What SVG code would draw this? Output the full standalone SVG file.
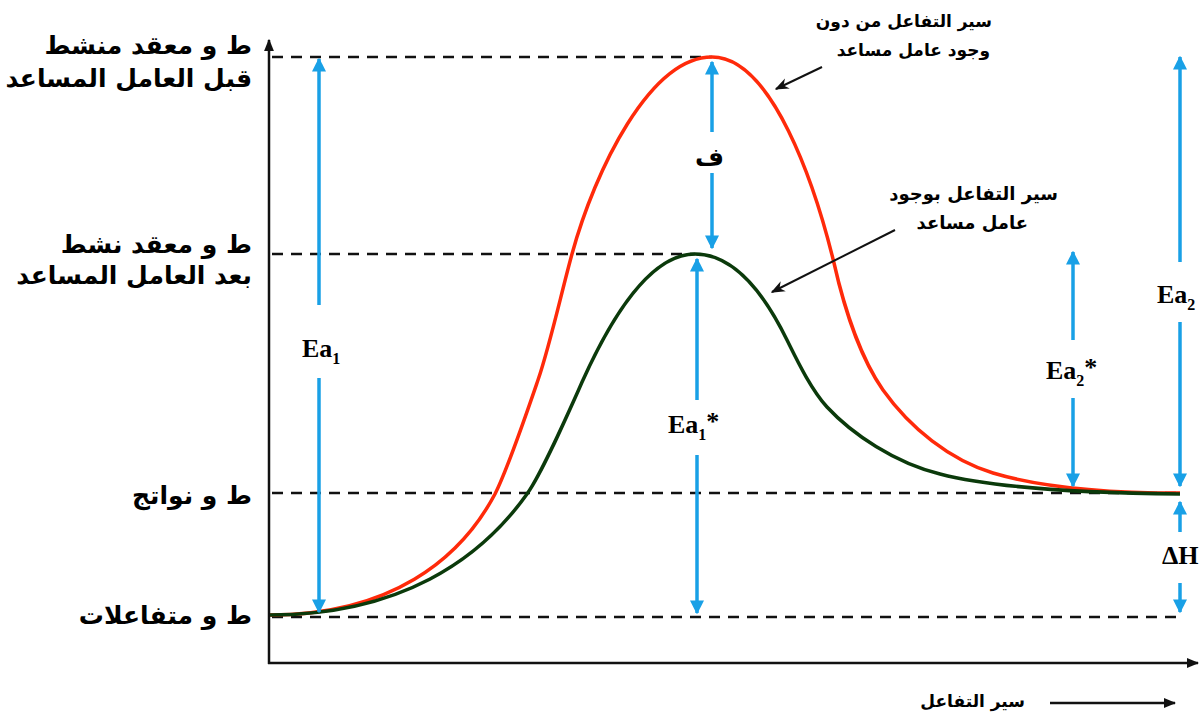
<svg xmlns="http://www.w3.org/2000/svg" width="1204" height="713" viewBox="0 0 1204 713">
<defs>
<style>
.ax{stroke:#111;stroke-width:2.5;fill:none}
.dash{stroke:#111;stroke-width:2.5;stroke-dasharray:11 8;fill:none}
.blue{stroke:#19a0e6;stroke-width:3.5;fill:none}
.red{stroke:#ff2a0a;stroke-width:3.5;fill:none}
.grn{stroke:#0b3a0b;stroke-width:3.5;fill:none}
.call{stroke:#111;stroke-width:2;fill:none}
.ar{font-family:"DejaVu Sans",sans-serif;font-weight:bold;fill:#000;text-anchor:end}
.ea{font-family:"Liberation Serif",serif;font-weight:bold;font-size:26px;fill:#000}
</style>
<marker id="bh" viewBox="0 0 10 10" refX="9" refY="5" markerWidth="4" markerHeight="4" orient="auto-start-reverse"><path d="M0,0 L10,5 L0,10 z" fill="#19a0e6"/></marker>
<marker id="kh" viewBox="0 0 10 10" refX="9" refY="5" markerWidth="5" markerHeight="5" orient="auto"><path d="M0,1 L10,5 L0,9 z" fill="#111"/></marker>
<marker id="ch" viewBox="0 0 10 10" refX="9" refY="5" markerWidth="7" markerHeight="7" orient="auto"><path d="M0,1 L10,5 L0,9 L3,5 z" fill="#111"/></marker>
</defs>
<rect width="1204" height="713" fill="#fff"/>

<g id="axes">
<line class="ax" x1="269" y1="664" x2="269" y2="40" marker-end="url(#kh)"/>
<line class="ax" x1="268" y1="663" x2="1198" y2="663" marker-end="url(#kh)"/>
</g>

<g id="levels">
<line class="dash" x1="272" y1="57" x2="712" y2="57"/>
<line class="dash" x1="272" y1="254" x2="695" y2="254"/>
<line class="dash" x1="272" y1="493" x2="1180" y2="493"/>
<line class="dash" x1="272" y1="617" x2="1180" y2="617"/>
</g>

<g id="curve-uncatalysed">
<path class="red" d="M270,615 C390,615 460,560 495,494 C508,468 526,415 538,380 C550,345 562,290 572,254 C595,170 650,57 712,57 C772,57 815,185 834,263 C845,312 862,360 883,390 C910,428 950,460 993,473 C1040,487 1100,493 1180,493"/>
</g>
<g id="curve-catalysed">
<path class="grn" d="M270,615 C400,615 480,560 527,494 C542,473 566,418 583,380 C612,316 650,254 695,254 C735,254 765,295 787,340 C796,358 810,388 827,407 C852,434 895,463 940,474 C990,487 1080,493 1180,494"/>
</g>

<g id="connectors">
<line class="blue" x1="319" y1="305" x2="319" y2="59" marker-end="url(#bh)"/>
<line class="blue" x1="319" y1="378" x2="319" y2="612" marker-end="url(#bh)"/>
<line class="blue" x1="712" y1="132" x2="712" y2="62" marker-end="url(#bh)"/>
<line class="blue" x1="712" y1="173" x2="712" y2="248" marker-end="url(#bh)"/>
<line class="blue" x1="697" y1="400" x2="697" y2="259" marker-end="url(#bh)"/>
<line class="blue" x1="697" y1="455" x2="697" y2="613" marker-end="url(#bh)"/>
<line class="blue" x1="1073" y1="340" x2="1073" y2="252" marker-end="url(#bh)"/>
<line class="blue" x1="1073" y1="398" x2="1073" y2="486" marker-end="url(#bh)"/>
<line class="blue" x1="1180" y1="262" x2="1180" y2="57" marker-end="url(#bh)"/>
<line class="blue" x1="1180" y1="322" x2="1180" y2="486" marker-end="url(#bh)"/>
<line class="blue" x1="1180" y1="532" x2="1180" y2="502" marker-end="url(#bh)"/>
<line class="blue" x1="1180" y1="583" x2="1180" y2="612" marker-end="url(#bh)"/>
<line class="call" x1="822" y1="67" x2="776" y2="89" marker-end="url(#ch)"/>
<line class="call" x1="895" y1="230" x2="772" y2="292" marker-end="url(#ch)"/>
<line class="ax" x1="1050" y1="703" x2="1175" y2="703" marker-end="url(#kh)"/>
</g>

<g id="label-ts-before">
<text class="ar" font-size="25" x="252" y="54">ط و معقد منشط</text>
<text class="ar" font-size="25" x="252" y="87">قبل العامل المساعد</text>
</g>
<g id="label-ts-after">
<text class="ar" font-size="25" x="252" y="253">ط و معقد نشط</text>
<text class="ar" font-size="25" x="252" y="284">بعد العامل المساعد</text>
</g>
<g id="label-products">
<text class="ar" font-size="25" x="252" y="504">ط و نواتج</text>
</g>
<g id="label-reactants">
<text class="ar" font-size="25" x="252" y="624">ط و متفاعلات</text>
</g>
<g id="label-path-uncat">
<text class="ar" font-size="17" x="992" y="27">سير التفاعل من دون</text>
<text class="ar" font-size="17" x="990" y="56">وجود عامل مساعد</text>
</g>
<g id="label-path-cat">
<text class="ar" font-size="18" x="1058" y="200">سير التفاعل بوجود</text>
<text class="ar" font-size="18" x="1028" y="229">عامل مساعد</text>
</g>
<g id="label-axis-x">
<text class="ar" font-size="17" x="1025" y="707">سير التفاعل</text>
</g>
<g id="label-diff">
<text class="ar" font-size="25" x="724" y="166">ف</text>
</g>
<g id="label-ea1"><text class="ea" x="302" y="357">Ea<tspan font-size="16" dy="7">1</tspan></text></g>
<g id="label-ea1s"><text class="ea" x="668" y="433">Ea<tspan font-size="16" dy="7">1</tspan><tspan dy="-10">*</tspan></text></g>
<g id="label-ea2s"><text class="ea" x="1046" y="379">Ea<tspan font-size="16" dy="7">2</tspan><tspan dy="-10">*</tspan></text></g>
<g id="label-ea2"><text class="ea" x="1157" y="303">Ea<tspan font-size="16" dy="7">2</tspan></text></g>
<g id="label-dh"><text class="ea" x="1162" y="564">ΔH</text></g>
</svg>
